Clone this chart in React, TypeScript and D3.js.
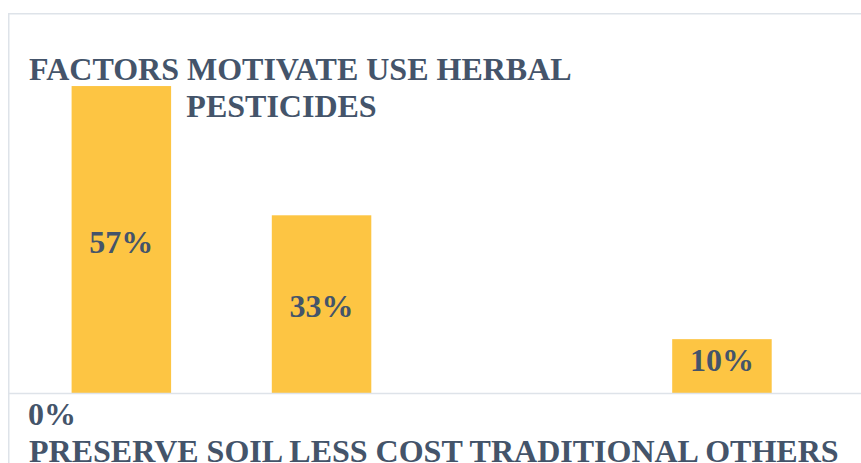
import React from "react";
import * as d3 from "d3";

const categories = ["PRESERVE SOIL", "LESS COST", "TRADITIONAL", "OTHERS"];
const values = [57, 33, 0, 10];
const titleLines = ["FACTORS MOTIVATE USE HERBAL", "PESTICIDES"];

const W = 861;
const H = 463;
const BASE_Y = 393;
const TEXT = "#44546A";
const BAR = "#FDC543";
const FRAME = "#DEE3E9";
const FONT = "'Liberation Serif', 'Times New Roman', serif";

export default function App() {
  const x = d3
    .scaleBand<string>()
    .domain(categories)
    .range([10, 833.3])
    .paddingInner(0.503)
    .paddingOuter(0.3077);
  const y = d3.scaleLinear().domain([0, 60]).range([BASE_Y, BASE_Y - 323.1]);
  const fmt = (v: number) => `${v}%`;

  return (
    <svg
      width={W}
      height={H}
      style={{ position: "absolute", left: 0, top: 0, background: "#fff" }}
      fontFamily={FONT}
      fontWeight="bold"
    >
      <rect x={0} y={0} width={W} height={H} fill="#fff" />
      {/* frame */}
      <line x1={8.75} y1={13.75} x2={W + 5} y2={13.75} stroke={FRAME} strokeWidth={1.5} />
      <line x1={8.75} y1={13} x2={8.75} y2={H + 5} stroke={FRAME} strokeWidth={1.5} />
      {/* bars */}
      {categories.map((c, i) =>
        values[i] > 0 ? (
          <rect
            key={c}
            x={x(c)}
            y={y(values[i])}
            width={x.bandwidth()}
            height={BASE_Y - y(values[i])}
            fill={BAR}
          />
        ) : null
      )}
      {/* baseline */}
      <line x1={9} y1={BASE_Y + 0.5} x2={W + 5} y2={BASE_Y + 0.5} stroke={FRAME} strokeWidth={1.5} />
      {/* data labels */}
      {categories.map((c, i) => {
        if (values[i] <= 0) return null;
        const top = y(values[i]);
        const mid = (top + BASE_Y) / 2;
        const by = Math.min(mid + 13, BASE_Y - 22);
        return (
          <text
            key={c}
            x={(x(c) as number) + x.bandwidth() / 2}
            y={by}
            textAnchor="middle"
            fontSize={32}
            fill={TEXT}
          >
            {fmt(values[i])}
          </text>
        );
      })}
      {/* title */}
      <text x={29} y={80} fontSize={32} fill={TEXT}>
        {titleLines[0]}
      </text>
      <text x={281.5} y={117} fontSize={32} fill={TEXT} textAnchor="middle">
        {titleLines[1]}
      </text>
      {/* zero label and category labels */}
      <text x={28} y={425} fontSize={32} fill={TEXT}>
        {fmt(values[2])}
      </text>
      <text x={29} y={462} fontSize={32} fill={TEXT}>
        {categories.join(" ")}
      </text>
    </svg>
  );
}
